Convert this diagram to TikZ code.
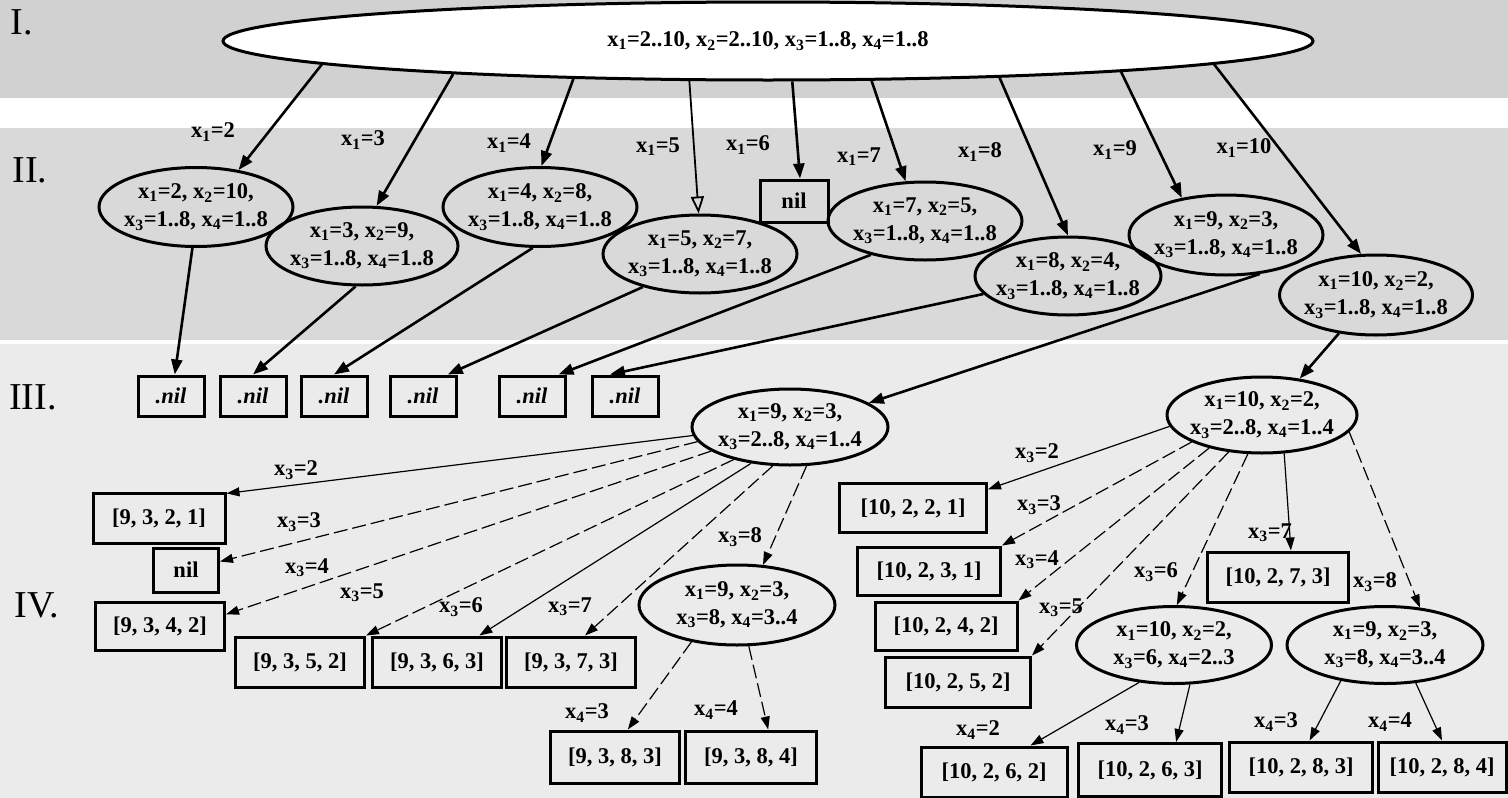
\documentclass[tikz,border=0pt]{standalone}
\usepackage{fontspec}
\setmainfont{Liberation Serif}
\usetikzlibrary{arrows.meta,shapes.geometric}
\newcommand{\xv}[1]{x\textsubscript{#1}}
\begin{document}
\begin{tikzpicture}[x=1pt,y=-1pt,
  every node/.style={font=\fontsize{22.5}{28}\selectfont\bfseries, inner sep=0pt},
  oval/.style={draw, ellipse, line width=3pt, align=center, inner xsep=-24pt, inner ysep=-12pt},
  box/.style={draw, rectangle, line width=3pt},
  lvl/.style={font=\fontsize{38}{40}\selectfont},
  big/.style={-{Triangle[length=15pt,width=11pt]}, line width=2.6pt},
  openarr/.style={-{Triangle[open,length=17pt,width=13pt]}, line width=1.8pt},
  thinarr/.style={-{Triangle[length=13pt,width=9pt]}, line width=1.2pt},
  dashline/.style={dash pattern=on 14pt off 5pt}
]
% background bands
\useasboundingbox (0,0) rectangle (1508,798);
\fill[black!18] (0,0) rectangle (1508,98);
\fill[black!15] (0,128) rectangle (1508,340);
\fill[black!8] (0,344) rectangle (1508,798);

% level labels
\node[lvl] (lI) at (22,22) {I.};
\node[lvl] (lII) at (30,170) {II.};
\node[lvl] (lIII) at (33,397) {III.};
\node[lvl] (lIV) at (37,605) {IV.};

% level I
\node[oval, fill=white, minimum width=1090pt, minimum height=78pt] (top) at (768,41)
  {\xv1=2..10, \xv2=2..10, \xv3=1..8, \xv4=1..8};

% level II
\node[oval, minimum width=194pt, minimum height=79pt] (n2) at (196,207) {\xv1=2, \xv2=10,\\\xv3=1..8, \xv4=1..8};
\node[oval, minimum width=192pt, minimum height=78pt] (n3) at (362,246) {\xv1=3, \xv2=9,\\\xv3=1..8, \xv4=1..8};
\node[oval, minimum width=194pt, minimum height=79pt] (n4) at (540,207) {\xv1=4, \xv2=8,\\\xv3=1..8, \xv4=1..8};
\node[oval, minimum width=194pt, minimum height=78pt] (n5) at (700,254) {\xv1=5, \xv2=7,\\\xv3=1..8, \xv4=1..8};
\node[box, minimum width=68pt, minimum height=42pt] (nil2) at (794,201) {nil};
\node[oval, minimum width=194pt, minimum height=78pt] (n7) at (925,221) {\xv1=7, \xv2=5,\\\xv3=1..8, \xv4=1..8};
\node[oval, minimum width=186pt, minimum height=78pt] (n8) at (1068,276) {\xv1=8, \xv2=4,\\\xv3=1..8, \xv4=1..8};
\node[oval, minimum width=194pt, minimum height=80pt] (n9) at (1226,235) {\xv1=9, \xv2=3,\\\xv3=1..8, \xv4=1..8};
\node[oval, minimum width=193pt, minimum height=80pt] (n10) at (1376,295) {\xv1=10, \xv2=2,\\\xv3=1..8, \xv4=1..8};

% level I -> II
\draw[big] (top.183) -- (n2.41);
\draw[big] (top.186) -- (n3.70);
\draw[big] (top.191) -- (n4.88);
\draw[openarr] (top.207) -- (n5.92);
\draw[big] (top.301) -- (nil2.75);
\draw[big] (top.339) -- (n7.116);
\draw[big] (top.351) -- (n8.90);
\draw[big] (top.355) -- (n9.140);
\draw[big] (top.357) -- (n10.110);

\node (a2) at (213,132) {\xv1=2};
\node (a3) at (363,140) {\xv1=3};
\node (a4) at (509,143) {\xv1=4};
\node (a5) at (658,147) {\xv1=5};
\node (a6) at (748,145) {\xv1=6};
\node (a7) at (859,157) {\xv1=7};
\node (a8) at (980,152) {\xv1=8};
\node (a9) at (1115,150) {\xv1=9};
\node (a10) at (1244,148) {\xv1=10};

% level III
\foreach \i/\x in {1/171,2/253,3/334,4/423,5/532,6/625}
  \node[box, minimum width=66pt, minimum height=40pt] (b\i) at (\x,396) {\itshape .nil};
\node[oval, minimum width=196pt, minimum height=76pt] (m9) at (790,427) {\xv1=9, \xv2=3,\\\xv3=2..8, \xv4=1..4};
\node[oval, minimum width=190pt, minimum height=76pt] (m10) at (1262,415) {\xv1=10, \xv2=2,\\\xv3=2..8, \xv4=1..4};

% level II -> III
\draw[big] (n2.265) -- (b1.80);
\draw[big] (n3.261) -- (b2.north);
\draw[big] (n4.260) -- (b3.north);
\draw[big] (n5.210) -- (b4.41);
\draw[big] (n7.212) -- (b5.39);
\draw[big] (n8.192) -- (b6.125);
\draw[big] (n9.311) -- (m9.17);
\draw[big] (n10.226) -- (m10.44);

% level IV, branch x1=9
\node[box, minimum width=132pt, minimum height=50pt] (c1) at (159,518) {[9, 3, 2, 1]};
\node[box, minimum width=65pt, minimum height=44pt] (c2) at (186,570) {nil};
\node[box, minimum width=129pt, minimum height=48pt] (c3) at (160,626) {[9, 3, 4, 2]};
\node[box, minimum width=129pt, minimum height=50pt] (c4) at (300,662) {[9, 3, 5, 2]};
\node[box, minimum width=129pt, minimum height=50pt] (c5) at (437,662) {[9, 3, 6, 3]};
\node[box, minimum width=129pt, minimum height=50pt] (c6) at (571,662) {[9, 3, 7, 3]};
\node[oval, minimum width=196pt, minimum height=80pt] (p) at (737,605) {\xv1=9, \xv2=3,\\\xv3=8, \xv4=3..4};
\node[box, minimum width=129pt, minimum height=52pt] (c7) at (615,757) {[9, 3, 8, 3]};
\node[box, minimum width=131pt, minimum height=52pt] (c8) at (751,757) {[9, 3, 8, 4]};

\draw[thinarr] (m9.185) -- (c1.20);
\draw[thinarr, dashline] (m9.189) -- (c2.14);
\draw[thinarr, dashline] (m9.197) -- (c3.10);
\draw[thinarr, dashline] (m9.210) -- (c4.north east);
\draw[thinarr] (m9.223) -- (c5.32);
\draw[thinarr, dashline] (m9.246) -- (c6.62);
\draw[thinarr, dashline] (m9.293) -- (p.57);
\draw[thinarr, dashline] (p.219) -- (c7.65);
\draw[thinarr, dashline] (p.286) -- (c8.58);

\node (d2) at (296,470) {\xv3=2};
\node (d3) at (299,522) {\xv3=3};
\node (d4) at (307,568) {\xv3=4};
\node (d5) at (362,593) {\xv3=5};
\node (d6) at (461,607) {\xv3=6};
\node (d7) at (570,607) {\xv3=7};
\node (d8) at (740,537) {\xv3=8};
\node (e3) at (587,713) {\xv4=3};
\node (e4) at (716,710) {\xv4=4};

% level IV, branch x1=10
\node[box, minimum width=147pt, minimum height=49pt] (f1) at (913,508) {[10, 2, 2, 1]};
\node[box, minimum width=143pt, minimum height=48pt] (f2) at (929,571) {[10, 2, 3, 1]};
\node[box, minimum width=142pt, minimum height=48pt] (f3) at (946,626) {[10, 2, 4, 2]};
\node[box, minimum width=145pt, minimum height=50pt] (f4) at (958,682) {[10, 2, 5, 2]};
\node[box, minimum width=141pt, minimum height=50pt] (f5) at (1278,577) {[10, 2, 7, 3]};
\node[oval, minimum width=195pt, minimum height=77pt] (q) at (1174,645) {\xv1=10, \xv2=2,\\\xv3=6, \xv4=2..3};
\node[oval, minimum width=196pt, minimum height=77pt] (r) at (1385,645) {\xv1=9, \xv2=3,\\\xv3=8, \xv4=3..4};
\node[box, minimum width=146pt, minimum height=50pt] (g1) at (994,772) {[10, 2, 6, 2]};
\node[box, minimum width=143pt, minimum height=53pt] (g2) at (1150,770) {[10, 2, 6, 3]};
\node[box, minimum width=143pt, minimum height=50pt] (g3) at (1301,767) {[10, 2, 8, 3]};
\node[box, minimum width=128pt, minimum height=50pt] (g4) at (1442,767) {[10, 2, 8, 4]};

\draw[thinarr] (m10.187) -- (f1.14);
\draw[thinarr, dashline] (m10.201) -- (f2.north east);
\draw[thinarr, dashline] (m10.212) -- (f3.north east);
\draw[thinarr, dashline] (m10.228) -- (f4.north east);
\draw[thinarr, dashline] (m10.250) -- (q.86);
\draw[thinarr] (m10.300) -- (f5.64);
\draw[thinarr, dashline] (m10.349) -- (r.47);
\draw[thinarr] (q.227) -- (g1.36);
\draw[thinarr] (q.292) -- (g2.47);
\draw[thinarr] (r.219) -- (g3.72);
\draw[thinarr] (r.309) -- (g4.north);

\node (h2) at (1037,453) {\xv3=2};
\node (h3) at (1039,505) {\xv3=3};
\node (h4) at (1037,560) {\xv3=4};
\node (h5) at (1061,608) {\xv3=5};
\node (h6) at (1156,572) {\xv3=6};
\node (h7) at (1270,533) {\xv3=7};
\node (h8) at (1375,582) {\xv3=8};
\node (k2) at (978,730) {\xv4=2};
\node (k3) at (1127,725) {\xv4=3};
\node (k4) at (1276,722) {\xv4=3};
\node (k5) at (1390,722) {\xv4=4};
\end{tikzpicture}
\end{document}
